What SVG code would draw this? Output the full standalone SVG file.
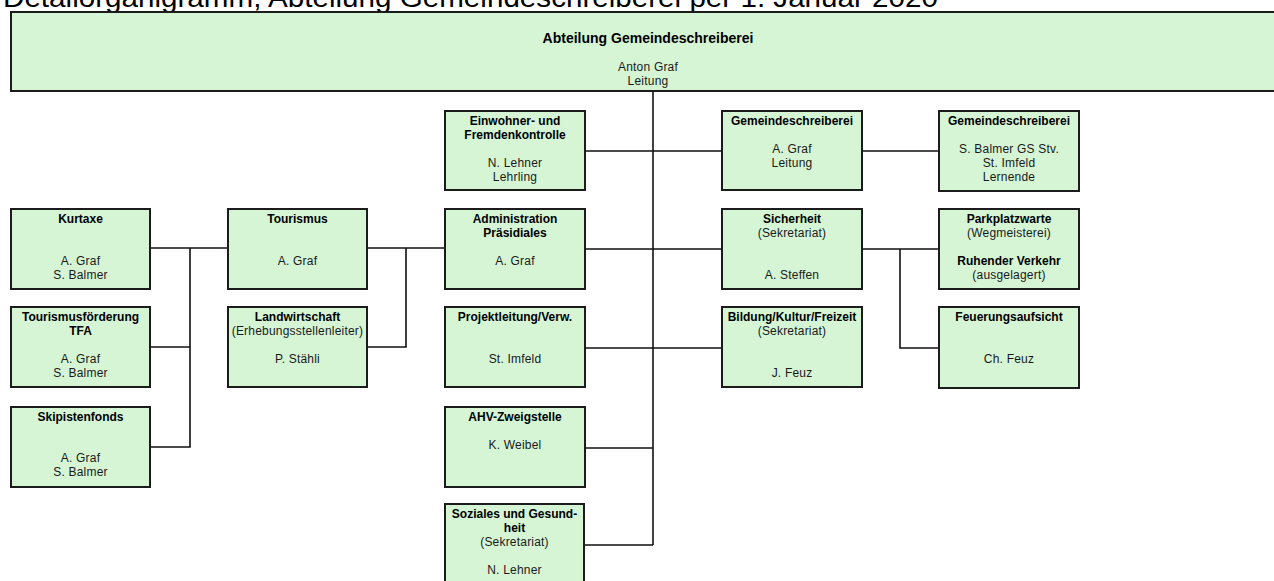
<svg xmlns="http://www.w3.org/2000/svg" width="1274" height="581" viewBox="0 0 1274 581">
<style>
.box{fill:#d5f5d5;stroke:#1c1c1c;stroke-width:2}
.b{font-family:"Liberation Sans",Arial,sans-serif;font-size:12px;font-weight:bold;fill:#000;text-anchor:middle}
.r{font-family:"Liberation Sans",Arial,sans-serif;font-size:12px;fill:#1a1a1a;text-anchor:middle;letter-spacing:0.2px}
.ttl{font-family:"Liberation Sans",Arial,sans-serif;font-size:28px;fill:#000}
#connectors path{fill:none;stroke:#111;stroke-width:1.6}
</style>
<rect width="1274" height="581" fill="#fff"/>
<text class="ttl" x="3" y="7" textLength="935" lengthAdjust="spacingAndGlyphs">Detailorganigramm, Abteilung Gemeindeschreiberei per 1. Januar 2020</text>
<g id="connectors">
<path d="M653 91V545"/>
<path d="M585 151H722M862 151H939"/>
<path d="M367 248H445M585 249H722M862 249H939"/>
<path d="M406 248V347H367"/>
<path d="M150 248H228M190 248V447H150M150 347H190"/>
<path d="M585 348H722"/>
<path d="M900 249V348H939"/>
<path d="M585 448H653M584 545H653"/>
</g>
<g id="n-top"><rect class="box" x="11" y="12" width="1274" height="79"/>
<text class="b" x="648" y="42.5" style="font-size:14px">Abteilung Gemeindeschreiberei</text>
<text class="r" x="648" y="70.5">Anton Graf</text><text class="r" x="648" y="84.5">Leitung</text></g>
<g id="n-kurtaxe"><rect class="box" x="11" y="209" width="139" height="80"/>
<text class="b" x="80.5" y="222.7">Kurtaxe</text>
<text class="r" x="80.5" y="264.7">A. Graf</text><text class="r" x="80.5" y="278.7">S. Balmer</text></g>
<g id="n-tfa"><rect class="box" x="11" y="307" width="139" height="80"/>
<text class="b" x="80.5" y="320.7">Tourismusförderung</text><text class="b" x="80.5" y="334.7">TFA</text>
<text class="r" x="80.5" y="362.7">A. Graf</text><text class="r" x="80.5" y="376.7">S. Balmer</text></g>
<g id="n-ski"><rect class="box" x="11" y="407" width="139" height="80"/>
<text class="b" x="80.5" y="420.7">Skipistenfonds</text>
<text class="r" x="80.5" y="461.7">A. Graf</text><text class="r" x="80.5" y="475.7">S. Balmer</text></g>
<g id="n-tourismus"><rect class="box" x="228" y="209" width="139" height="80"/>
<text class="b" x="297.5" y="222.7">Tourismus</text>
<text class="r" x="297.5" y="264.7">A. Graf</text></g>
<g id="n-landwirtschaft"><rect class="box" x="228" y="307" width="139" height="80"/>
<text class="b" x="297.5" y="320.7">Landwirtschaft</text>
<text class="r" x="297.5" y="334.7">(Erhebungsstellenleiter)</text>
<text class="r" x="297.5" y="362.7">P. Stähli</text></g>
<g id="n-einwohner"><rect class="box" x="445" y="111" width="140" height="79"/>
<text class="b" x="515" y="124.5">Einwohner- und</text><text class="b" x="515" y="138.5">Fremdenkontrolle</text>
<text class="r" x="515" y="166.5">N. Lehner</text><text class="r" x="515" y="180.5">Lehrling</text></g>
<g id="n-admin"><rect class="box" x="445" y="209" width="140" height="80"/>
<text class="b" x="515" y="222.7">Administration</text><text class="b" x="515" y="236.7">Präsidiales</text>
<text class="r" x="515" y="264.7">A. Graf</text></g>
<g id="n-projekt"><rect class="box" x="445" y="307" width="140" height="80"/>
<text class="b" x="515" y="320.7">Projektleitung/Verw.</text>
<text class="r" x="515" y="362.7">St. Imfeld</text></g>
<g id="n-ahv"><rect class="box" x="445" y="407" width="140" height="80"/>
<text class="b" x="515" y="420.7">AHV-Zweigstelle</text>
<text class="r" x="515" y="448.7">K. Weibel</text></g>
<g id="n-soziales"><rect class="box" x="445" y="504" width="139" height="80"/>
<text class="b" x="514.5" y="517.7">Soziales und Gesund-</text><text class="b" x="514.5" y="531.7">heit</text>
<text class="r" x="514.5" y="545.7">(Sekretariat)</text>
<text class="r" x="514.5" y="573.7">N. Lehner</text></g>
<g id="n-gs1"><rect class="box" x="722" y="111" width="140" height="79"/>
<text class="b" x="792" y="124.5">Gemeindeschreiberei</text>
<text class="r" x="792" y="152.5">A. Graf</text><text class="r" x="792" y="166.5">Leitung</text></g>
<g id="n-sicherheit"><rect class="box" x="722" y="209" width="140" height="80"/>
<text class="b" x="792" y="222.7">Sicherheit</text>
<text class="r" x="792" y="236.7">(Sekretariat)</text>
<text class="r" x="792" y="278.7">A. Steffen</text></g>
<g id="n-bildung"><rect class="box" x="722" y="307" width="140" height="80"/>
<text class="b" x="792" y="320.7">Bildung/Kultur/Freizeit</text>
<text class="r" x="792" y="334.7">(Sekretariat)</text>
<text class="r" x="792" y="376.7">J. Feuz</text></g>
<g id="n-gs2"><rect class="box" x="939" y="111" width="140" height="80"/>
<text class="b" x="1009" y="124.5">Gemeindeschreiberei</text>
<text class="r" x="1009" y="152.5">S. Balmer GS Stv.</text>
<text class="r" x="1009" y="166.5">St. Imfeld</text>
<text class="r" x="1009" y="180.5">Lernende</text></g>
<g id="n-parkplatz"><rect class="box" x="939" y="209" width="140" height="80"/>
<text class="b" x="1009" y="222.7">Parkplatzwarte</text>
<text class="r" x="1009" y="236.7">(Wegmeisterei)</text>
<text class="b" x="1009" y="264.7">Ruhender Verkehr</text>
<text class="r" x="1009" y="278.7">(ausgelagert)</text></g>
<g id="n-feuerung"><rect class="box" x="939" y="307" width="140" height="81"/>
<text class="b" x="1009" y="320.7">Feuerungsaufsicht</text>
<text class="r" x="1009" y="362.7">Ch. Feuz</text></g>
</svg>
